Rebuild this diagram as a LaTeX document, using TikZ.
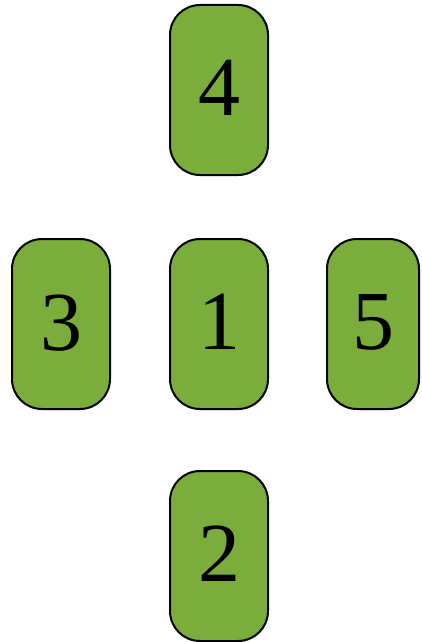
\documentclass[tikz,border=0pt]{standalone}
\usepackage{fontspec}
\setmainfont{Liberation Serif}
\definecolor{boxgreen}{HTML}{7AAD3C}
\begin{document}
\begin{tikzpicture}[x=1pt,y=1pt,
  card/.style={draw=black, line width=2pt, fill=boxgreen, rounded corners=30pt,
    minimum width=98pt, minimum height=170pt, inner sep=0pt,
    font=\fontsize{84}{84}\selectfont}]
\useasboundingbox (0,0) rectangle (421,-642);
\node[card] (n4) at (219,-90) {\raisebox{5pt}{4}};
\node[card] (n3) at (61,-324) {\raisebox{2pt}{3}};
\node[card] (n1) at (219,-324) {\raisebox{5pt}{1}};
\node[card, minimum width=92pt] (n5) at (373,-324) {\raisebox{4pt}{5}};
\node[card] (n2) at (219,-556) {\raisebox{4pt}{2}};
\end{tikzpicture}
\end{document}
